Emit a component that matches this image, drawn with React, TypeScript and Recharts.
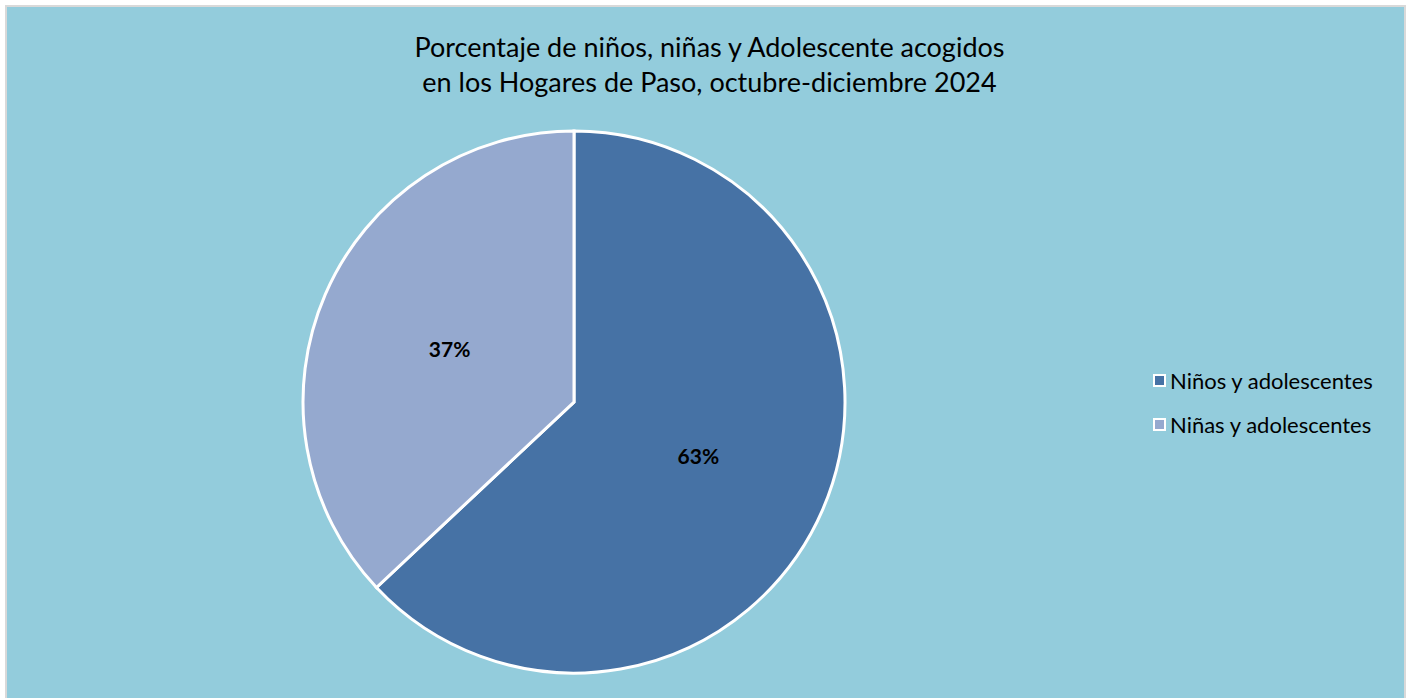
import React from "react";
import { Pie, PieChart, Cell, Legend } from "recharts";

const categories = ["Niños y adolescentes", "Niñas y adolescentes"];
const shares = [63, 37];
const colors = ["#4672A5", "#95A9CF"];

const data = categories.map((name, i) => ({ name, value: shares[i] }));

const FONT = "Lato, 'Noto Sans', sans-serif";

const RADIAN = Math.PI / 180;

const renderLabel = ({ cx, cy, midAngle, outerRadius, value }: any) => {
  const r = outerRadius * 0.5;
  const x = cx + r * Math.cos(-midAngle * RADIAN);
  const y = cy + r * Math.sin(-midAngle * RADIAN);
  return (
    <text
      x={x}
      y={y}
      textAnchor="middle"
      dominantBaseline="central"
      fill="#000"
      fontFamily={FONT}
      fontWeight="bold"
      fontSize={21}
    >
      {`${value}%`}
    </text>
  );
};

const renderLegend = () => (
  <div style={{ fontFamily: FONT, fontSize: 22, color: "#000" }}>
    {categories.map((name, i) => (
      <div
        key={name}
        style={{ display: "flex", alignItems: "center", height: 44 }}
      >
        <span
          style={{
            display: "inline-block",
            width: 9,
            height: 9,
            background: colors[i],
            border: "2px solid #fff",
            marginRight: 4,
          }}
        />
        {name}
      </div>
    ))}
  </div>
);

const App = () => {
  return (
    <div
      style={{
        position: "absolute",
        left: 5,
        top: 5,
        width: 1397,
        height: 700,
        background: "#93CCDC",
        border: "2px solid #D9D9D9",
      }}
    >
      <div
        style={{
          position: "absolute",
          left: 0,
          top: 22,
          width: 1405,
          textAlign: "center",
          fontFamily: FONT,
          fontSize: 27,
          lineHeight: "35px",
          color: "#000",
        }}
      >
        Porcentaje de niños, niñas y Adolescente acogidos
        <br />
        en los Hogares de Paso, octubre-diciembre 2024
      </div>
      <PieChart
        width={1397}
        height={700}
        margin={{ top: 0, right: 0, bottom: 0, left: 0 }}
      >
        <Pie
          data={data}
          dataKey="value"
          nameKey="name"
          cx={567}
          cy={395}
          outerRadius={271}
          startAngle={90}
          endAngle={-270}
          stroke="#fff"
          strokeWidth={3}
          label={renderLabel}
          labelLine={false}
          isAnimationActive={false}
        >
          {data.map((d, i) => (
            <Cell key={d.name} fill={colors[i]} />
          ))}
        </Pie>
        <Legend
          content={renderLegend}
          layout="vertical"
          wrapperStyle={{ left: 1146, top: 351, width: 260 }}
        />
      </PieChart>
    </div>
  );
};

export default App;
